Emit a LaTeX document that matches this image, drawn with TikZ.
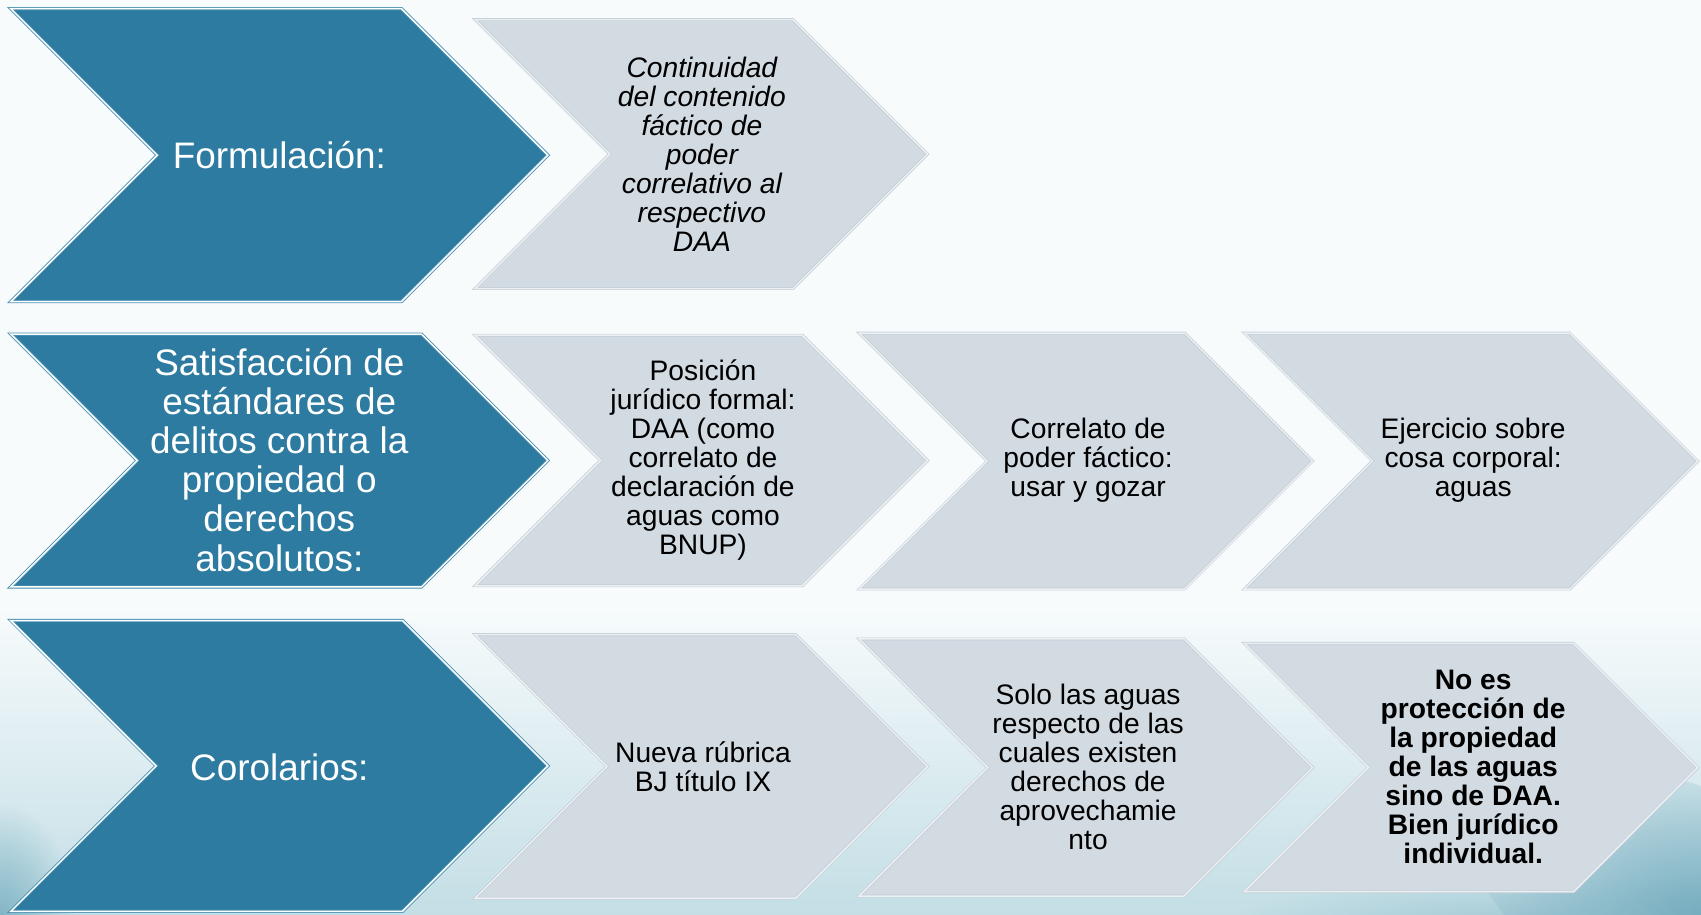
\documentclass[tikz,border=0pt]{standalone}
\usepackage{fontspec}
\setmainfont{Liberation Sans}
\usetikzlibrary{fadings}
\tikzfading[name=softspot, inner color=transparent!0, outer color=transparent!100]
\definecolor{bgwhite}{HTML}{F7FBFC}
\definecolor{bgblue}{HTML}{C3DEE5}
\definecolor{bgteal}{HTML}{6FA9BC}
\definecolor{darkfill}{HTML}{2D7BA0}
\definecolor{darkline}{HTML}{4A90B2}
\definecolor{lightfill}{HTML}{D2DAE2}
\definecolor{lightline}{HTML}{C2CDD6}
\newcommand\chevpath[5]{%
  \path[#1] (#2,#4) -- ({#3-(#5-#4)/2},#4) -- (#3,{(#4+#5)/2}) -- ({#3-(#5-#4)/2},#5)
    -- (#2,#5) -- ({#2+(#5-#4)/2},{(#4+#5)/2}) -- cycle;}
\tikzset{
  darkchev/.style={fill=darkfill, draw=darkline, line width=0.8pt, double=white, double distance=1.4pt, line join=miter},
  lightchev/.style={fill=lightfill, draw=lightline, line width=0.6pt, double=white!60!lightfill, double distance=1.4pt, line join=miter},
  darktext/.style={text=white, align=center, inner sep=0pt, font=\fontsize{34}{36}\selectfont},
  lighttext/.style={text=black, align=center, inner sep=0pt, font=\fontsize{26}{26.8}\selectfont}
}
\begin{document}
\begin{tikzpicture}[x=1pt,y=-1pt]
\useasboundingbox (0,0) rectangle (1568,843);
% background
\fill[bgwhite] (0,0) rectangle (1568,843);
\shade[top color=bgwhite, bottom color=bgblue] (0,560) rectangle (1568,843);
\begin{scope}
\clip (0,0) rectangle (1568,843);
\fill[bgteal, path fading=softspot, opacity=0.8] (0,850) ellipse (70 and 110);
\fill[bgteal, path fading=softspot, opacity=0.9, rotate around={-25:(1568,843)}] (1568,843) ellipse (230 and 110);
\fill[bgteal, path fading=softspot, opacity=0.35] (1400,850) ellipse (260 and 45);
\end{scope}
% row 1
\chevpath{darkchev}{10}{505}{8}{278}
\node[darktext] (f1) at (257.5,143) {Formulación:};
\chevpath{lightchev}{438}{855}{18}{266}
\node[lighttext, font=\fontsize{26}{26.8}\selectfont\itshape] (f2) at (647,142)
  {Continuidad\\del contenido\\fáctico de\\poder\\correlativo al\\respectivo\\DAA};
% row 2
\chevpath{darkchev}{10}{505}{308}{541}
\node[darktext] (s1) at (257.5,424)
  {Satisfacción de\\estándares de\\delitos contra la\\propiedad o\\derechos\\absolutos:};
\chevpath{lightchev}{438}{855}{309}{540}
\node[lighttext] (s2) at (648,424)
  {Posición\\jurídico formal:\\DAA (como\\correlato de\\declaración de\\aguas como\\BNUP)};
\chevpath{lightchev}{792}{1210}{307}{543}
\node[lighttext] (s3) at (1003,424) {Correlato de\\poder fáctico:\\usar y gozar};
\chevpath{lightchev}{1147}{1565}{307}{543}
\node[lighttext] (s4) at (1358,424) {Ejercicio sobre\\cosa corporal:\\aguas};
% row 3
\chevpath{darkchev}{10}{505}{572}{840}
\node[darktext] (c1) at (257.5,707) {Corolarios:};
\chevpath{lightchev}{438}{855}{585}{828}
\node[lighttext] (c2) at (648,707) {Nueva rúbrica\\BJ título IX};
\chevpath{lightchev}{792}{1210}{589}{826}
\node[lighttext] (c3) at (1003,707)
  {Solo las aguas\\respecto de las\\cuales existen\\derechos de\\aprovechamie\\nto};
\chevpath{lightchev}{1147}{1565}{593}{822}
\node[lighttext, font=\fontsize{26}{26.8}\selectfont\bfseries] (c4) at (1358,707)
  {No es\\protección de\\la propiedad\\de las aguas\\sino de DAA.\\Bien jurídico\\individual.};
\end{tikzpicture}
\end{document}
